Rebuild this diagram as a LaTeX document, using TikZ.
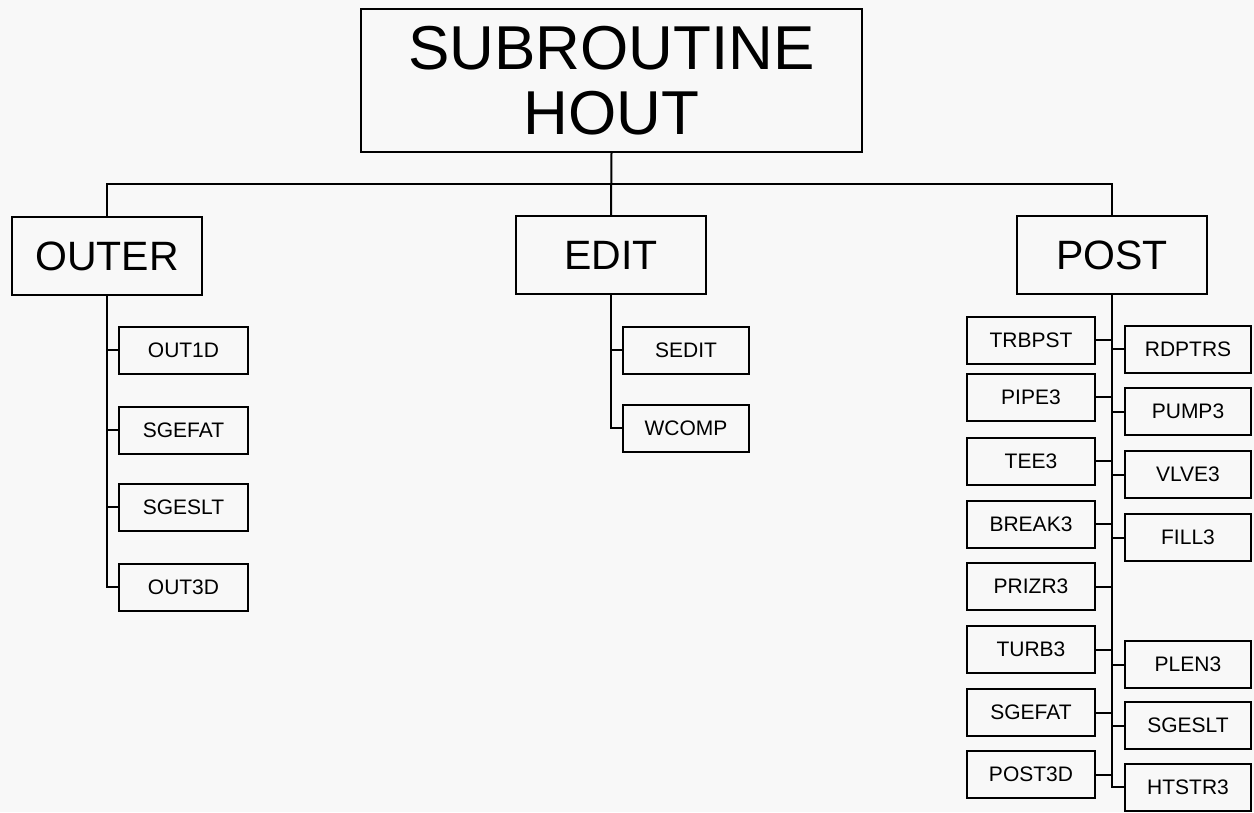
\documentclass[tikz,border=0pt]{standalone}
\usepackage{fontspec}
\setmainfont{Liberation Sans}
\definecolor{paper}{RGB}{248,248,248}
\begin{document}
\begin{tikzpicture}[x=1pt,y=-1pt,
  box/.style={draw,line width=2pt,inner sep=0pt,align=center},
  bigbox/.style={box,font=\fontsize{62}{65}\selectfont},
  midbox/.style={box,minimum width=190pt,minimum height=78pt,font=\fontsize{41}{45}\selectfont},
  subbox/.style={box,minimum height=47pt,font=\fontsize{21}{24}\selectfont},
  outsub/.style={subbox,minimum width=129pt},
  editsub/.style={subbox,minimum width=126pt},
  leftsub/.style={subbox,minimum width=128pt},
  rightsub/.style={subbox,minimum width=126pt},
  link/.style={line width=2pt}]

\fill[paper] (0,0) rectangle (1254,812);
\useasboundingbox (0,0) rectangle (1254,812);

% top level
\node[bigbox,minimum width=501pt,minimum height=143pt] (top) at (611.5,80.5) {SUBROUTINE\\HOUT};

% second level
\node[midbox] (outer) at (107,256) {OUTER};
\node[midbox] (edit) at (611,255) {EDIT};
\node[midbox] (post) at (1112,255) {POST};

\coordinate (bus) at (611,184);
\draw[link] (outer.north) |- (bus) -| (post.north);
\draw[link] (top.south) -- (edit.north);

% OUTER children
\node[outsub] (out1d)  at (183.5,350) {OUT1D};
\node[outsub] (osgefat) at (183.5,430) {SGEFAT};
\node[outsub] (osgeslt) at (183.5,507) {SGESLT};
\node[outsub] (out3d)  at (183.5,587) {OUT3D};
\draw[link] (outer.south) |- (out3d.west);
\foreach \n in {out1d,osgefat,osgeslt}
  \draw[link] (\n.west) -- (\n.west -| outer.south);

% EDIT children
\node[editsub] (sedit) at (686,350) {SEDIT};
\node[editsub] (wcomp) at (686,428) {WCOMP};
\draw[link] (edit.south) |- (wcomp.west);
\draw[link] (sedit.west) -- (sedit.west -| edit.south);

% POST children, left column
\node[leftsub] (trbpst) at (1031,340) {TRBPST};
\node[leftsub] (pipe)   at (1031,397) {PIPE3};
\node[leftsub] (tee)    at (1031,461) {TEE3};
\node[leftsub] (break)  at (1031,524) {BREAK3};
\node[leftsub] (prizr)  at (1031,586.5) {PRIZR3};
\node[leftsub] (turb)   at (1031,649.5) {TURB3};
\node[leftsub] (psgefat) at (1031,712.5) {SGEFAT};
\node[leftsub] (post3d) at (1031,774.5) {POST3D};

% POST children, right column
\node[rightsub] (rdptrs) at (1188,349) {RDPTRS};
\node[rightsub] (pump)   at (1188,411.5) {PUMP3};
\node[rightsub] (vlve)   at (1188,474.5) {VLVE3};
\node[rightsub] (fill)   at (1188,537.5) {FILL3};
\node[rightsub] (plen)   at (1188,664.5) {PLEN3};
\node[rightsub] (psgeslt) at (1188,725.5) {SGESLT};
\node[rightsub] (htstr)  at (1188,787) {HTSTR3};

\draw[link] (post.south) |- (htstr.west);
\foreach \n in {trbpst,pipe,tee,break,prizr,turb,psgefat,post3d}
  \draw[link] (\n.east) -- (\n.east -| post.south);
\foreach \n in {rdptrs,pump,vlve,fill,plen,psgeslt}
  \draw[link] (\n.west) -- (\n.west -| post.south);

\end{tikzpicture}
\end{document}
